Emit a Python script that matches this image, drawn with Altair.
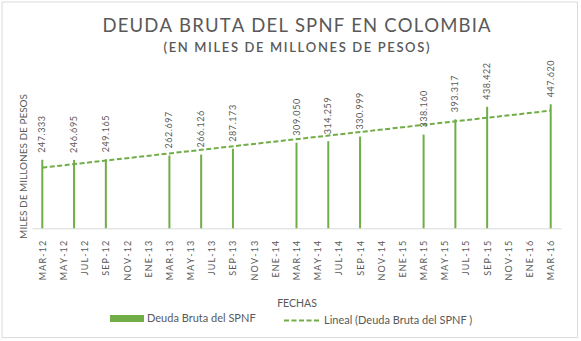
import altair as alt
import pandas as pd

# ---- datos ----
fechas = ["2012-03", "2012-06", "2012-09", "2013-03", "2013-06", "2013-09",
          "2014-03", "2014-06", "2014-09", "2015-03", "2015-06", "2015-09", "2016-03"]
deuda = [247.333, 246.695, 249.165, 262.697, 266.126, 287.173,
         309.050, 314.259, 330.999, 338.160, 393.317, 438.422, 447.620]
etiquetas_eje = ["MAR-12", "MAY-12", "JUL-12", "SEP-12", "NOV-12", "ENE-13",
                 "MAR-13", "MAY-13", "JUL-13", "SEP-13", "NOV-13", "ENE-14",
                 "MAR-14", "MAY-14", "JUL-14", "SEP-14", "NOV-14", "ENE-15",
                 "MAR-15", "MAY-15", "JUL-15", "SEP-15", "NOV-15", "ENE-16", "MAR-16"]
serie = "Deuda Bruta del SPNF"
serie_tendencia = "Lineal (Deuda Bruta del SPNF )"
titulo = "DEUDA BRUTA DEL SPNF EN COLOMBIA"
subtitulo = "(EN MILES DE MILLONES DE PESOS)"
titulo_y = "MILES DE MILLONES DE PESOS"
titulo_x = "FECHAS"

HAIR = "\u200a"
THIN = "\u2009"
VERDE = "#70AD47"
GRIS = "#595959"
FUENTE = "Lato"


def espaciar(s, sep):
    return sep.join(s)


df = pd.DataFrame({"fecha": fechas, "deuda": deuda})
df["mes"] = [(int(f[:4]) - 2012) * 12 + int(f[5:7]) - 3 for f in fechas]
df["etiqueta"] = [espaciar(f"{v:.3f}", HAIR) for v in deuda]
df["serie"] = serie

label_array = "[" + ",".join("'" + espaciar(t, THIN) + "'" for t in etiquetas_eje) + "]"
label_expr = label_array + "[round(datum.value / 2)]"

W, H = 529, 124.7
LEFT, TOP = 32, 103.6

x_enc = alt.X(
    "mes:Q",
    scale=alt.Scale(domain=[-0.5, 48.5], nice=False, zero=False),
    axis=alt.Axis(values=list(range(0, 49, 2)), tickCount=60, labelExpr=label_expr,
                  labelAngle=270, labelPadding=12, ticks=False, grid=False,
                  domainColor="#D9D9D9", labelFont=FUENTE, labelFontSize=9,
                  labelColor=GRIS, labelOverlap=False,
                  title=titulo_x, titleFont=FUENTE, titleFontSize=10.5,
                  titleFontWeight="normal", titleColor=GRIS, titlePadding=19),
)
y_enc = alt.Y(
    "deuda:Q",
    scale=alt.Scale(domain=[0, 450], nice=False),
    axis=alt.Axis(labels=False, ticks=False, domain=False, grid=False,
                  title=titulo_y, titleFont=FUENTE, titleFontSize=10,
                  titleFontWeight="normal", titleColor=GRIS, titlePadding=4),
)

base = alt.Chart(df)

borde = alt.Chart(pd.DataFrame({"k": [0]})).mark_rect(
    filled=False, stroke="#D9D9D9", strokeWidth=1
).encode(x=alt.value(-30), x2=alt.value(545.5), y=alt.value(-101.6), y2=alt.value(234))

barras = base.mark_bar(size=2).encode(
    x=x_enc, y=y_enc,
    color=alt.Color("serie:N", scale=alt.Scale(range=[VERDE]),
                    legend=alt.Legend(title=None, orient="none", legendX=78, legendY=198,
                                      symbolType="M-1,-0.206H1V0.206H-1Z", symbolSize=1156,
                                      symbolStrokeWidth=0, labelFont=FUENTE, labelFontSize=11,
                                      labelColor=GRIS, labelOffset=3)),
)

tendencia = base.transform_regression("mes", "deuda").transform_calculate(
    serie2="'" + serie_tendencia + "'"
).mark_line(strokeDash=[5, 2.5], strokeWidth=2).encode(
    x="mes:Q", y="deuda:Q",
    stroke=alt.Stroke("serie2:N", scale=alt.Scale(range=[VERDE]),
                      legend=alt.Legend(title=None, orient="none", legendX=251, legendY=198,
                                        symbolType="stroke", symbolSize=1296,
                                        symbolDash=[5, 2.5], symbolStrokeWidth=2,
                                        labelFont=FUENTE, labelFontSize=11,
                                        labelColor=GRIS, labelOffset=3)),
)

textos = base.mark_text(angle=270, align="left", baseline="middle", dx=7,
                        font=FUENTE, fontSize=9, color=GRIS).encode(
    x="mes:Q", y="deuda:Q", text="etiqueta:N"
)

chart = alt.layer(borde, barras, tendencia, textos).properties(
    width=W, height=H,
    padding={"left": LEFT, "top": TOP, "right": 581 - LEFT - W, "bottom": 341 - TOP - H},
    autosize=alt.AutoSizeParams(type="none"),
    title=alt.TitleParams(text=espaciar(titulo, HAIR), subtitle=espaciar(subtitulo, THIN),
                          anchor="middle",
                          font=FUENTE, fontSize=18.5, fontWeight="normal", color=GRIS,
                          subtitleFont=FUENTE, subtitleFontSize=13, subtitleFontWeight=600,
                          subtitleColor=GRIS, subtitlePadding=6, offset=-53),
    background="white",
).configure_view(strokeWidth=0)

chart.save("out.html", embed_options={"renderer": "svg", "actions": False})
